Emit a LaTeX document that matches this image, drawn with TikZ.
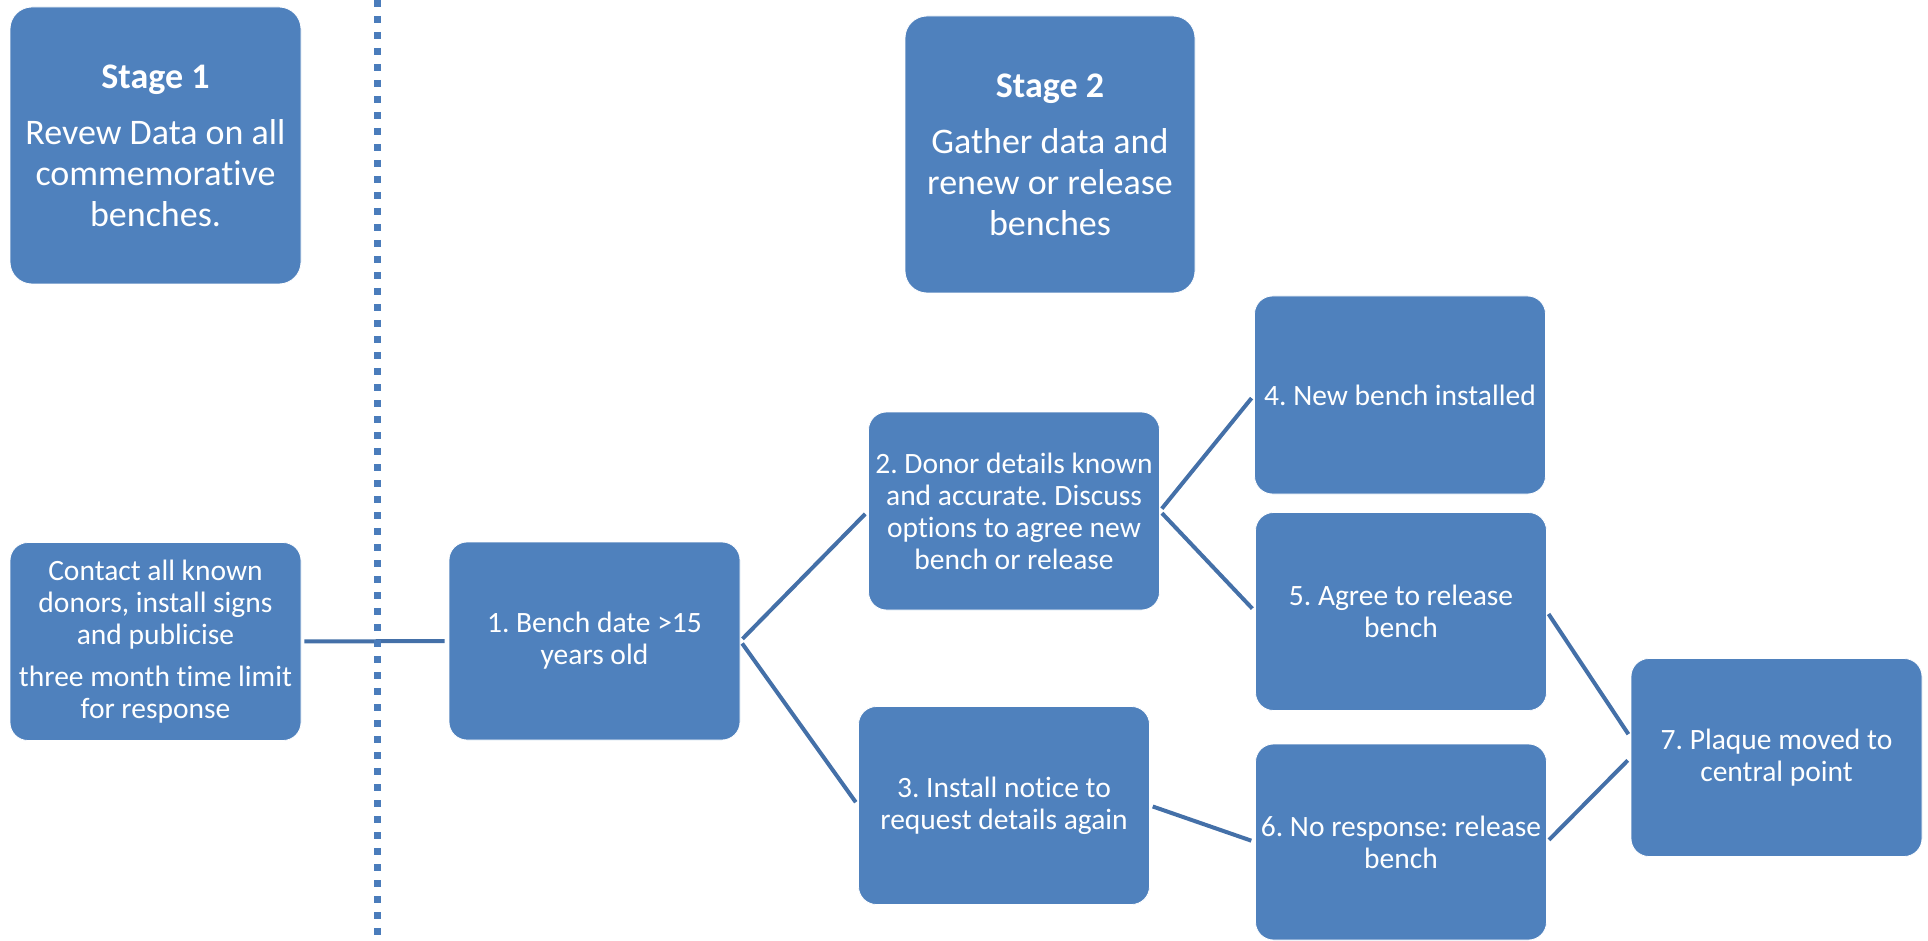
\documentclass[tikz,border=0pt]{standalone}
\usepackage{fontspec}
\setmainfont{Carlito}[Ligatures=NoCommon]
\usepackage{xcolor}
\definecolor{cBox}{HTML}{4F81BD}
\definecolor{cLine}{HTML}{4470A8}
\definecolor{cDiv}{HTML}{4A7CBB}
\usetikzlibrary{positioning}
\frenchspacing
\tikzset{
  node-box/.style={draw=white,line width=0.8pt,fill=cBox,rounded corners=18pt,
    minimum width=291pt,minimum height=198pt,inner sep=0pt,align=center,
    text=white,font=\fontsize{29.5}{32}\selectfont},
  node-stage/.style={node-box,minimum height=277pt,rounded corners=22pt,
    font=\fontsize{36}{41}\selectfont},
  link/.style={line width=4pt,draw=cLine,shorten <=3pt,shorten >=4pt},
  divider/.style={draw=cDiv,line width=7pt,dash pattern=on 7pt off 9pt},
}

\begin{document}
\begin{tikzpicture}[x=1pt,y=-1pt]
  \useasboundingbox (0,0) rectangle (1928,941);
  % stages
  \node[node-stage] (stage1) at (155.5,145.5)
    {\textbf{Stage 1}\\[15pt]Revew Data on all\\commemorative\\benches.};
  \node[node-stage,minimum width=290pt] (stage2) at (1050,154.5)
    {\textbf{Stage 2}\\[15pt]Gather data and\\renew or release\\benches};
  % steps
  \node[node-box] (contact) at (155.5,641.5)
    {Contact all known\\donors, install signs\\and publicise\\[10pt]three month time limit\\for response};
  \node[node-box] (b1) at (594.5,641) {1. Bench date >15\\years old};
  \node[node-box] (b2) at (1014,511)
    {2. Donor details known\\and accurate. Discuss\\options to agree new\\bench or release};
  \node[node-box] (b3) at (1004,805.5) {3. Install notice to\\request details again};
  \node[node-box] (b4) at (1400,395) {4. New bench installed};
  \node[node-box] (b5) at (1401,611.5) {5. Agree to release\\bench};
  \node[node-box,minimum height=196pt] (b6) at (1401,842) {6. No response: release\\bench};
  \node[node-box] (b7) at (1776.5,757.5) {7. Plaque moved to\\central point};
  \draw[link] (contact.east) -- (b1.west);
  \draw[link] (b1.east) -- (b2.west);
  \draw[link] (b1.east) -- (b3.west);
  \draw[link] (b2.east) -- (b4.west);
  \draw[link] (b2.east) -- (b5.west);
  \draw[link] (b3.east) -- (b6.west);
  \draw[link] (b5.east) -- ([yshift=20pt]b7.west);
  \draw[link] (b6.east) -- (b7.west);
  % stage divider
  \coordinate (div-top) at (377,0);
  \coordinate (div-bot) at (377,941);
  \draw[divider] (div-top) -- (div-bot);
\end{tikzpicture}
\end{document}
